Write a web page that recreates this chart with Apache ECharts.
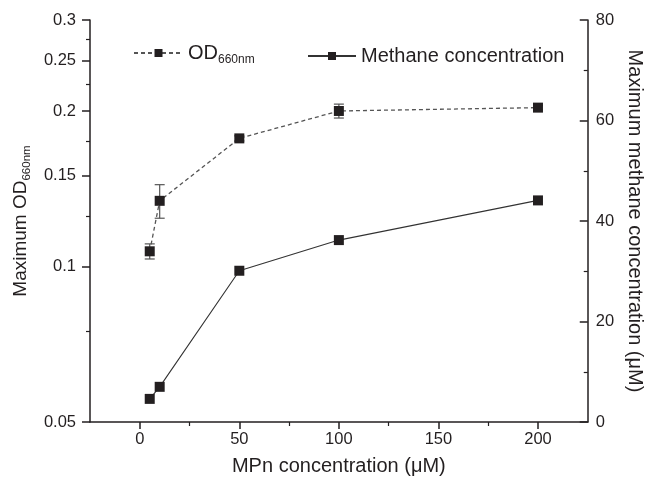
<!DOCTYPE html>
<html>
<head>
<meta charset="utf-8">
<script src="https://cdn.jsdelivr.net/npm/echarts@6/dist/echarts.min.js"></script>
<style>html,body{margin:0;padding:0;background:#fff}#c{width:653px;height:483px}</style>
</head>
<body>
<div id="c"></div>
<script>
// ---- data ----
const mpn = [5, 10, 50, 100, 200];
const od660 = [0.107, 0.134, 0.177, 0.200, 0.203];
const od660Err = [0.0036, 0.0100, 0.0020, 0.0062, 0.0020];
const methane = [4.6, 7.0, 30.1, 36.2, 44.1];
const xTicks = [0, 50, 100, 150, 200];
const xMinorTicks = [25, 75, 125, 175];
const odTicks = [0.05, 0.1, 0.15, 0.2, 0.25, 0.3];
const odMinorTicks = [0.075, 0.125, 0.175, 0.225, 0.275];
const methaneTicks = [0, 20, 40, 60, 80];

const FONT = '"Liberation Sans", Arial, sans-serif';
const TXT = '#231f20';
const AX = '#231f20';

const chart = echarts.init(document.getElementById('c'), null, {renderer: 'canvas'});

const odData = mpn.map((x, i) => [x, od660[i]]);
const odErrData = mpn.map((x, i) => [x, od660[i], od660Err[i]]);
const chData = mpn.map((x, i) => [x, methane[i]]);

const option = {
  backgroundColor: '#fff',
  animation: false,
  textStyle: {fontFamily: FONT, color: TXT},
  grid: {left: 90, right: 65, top: 20, bottom: 61, containLabel: false},
  legend: [
    {
      data: ['OD'],
      left: 128, top: 38,
      itemWidth: 49, itemHeight: 10, itemGap: 0,
      formatter: () => '{a|OD}{b|660nm}',
      textStyle: {fontFamily: FONT, color: TXT, rich: {
        a: {fontSize: 20, lineHeight: 26, fontFamily: FONT, color: TXT},
        b: {fontSize: 12, lineHeight: 12, verticalAlign: 'bottom', fontFamily: FONT, color: TXT}
      }}
    },
    {
      data: ['Methane concentration'],
      left: 302, top: 38,
      itemWidth: 48, itemHeight: 10,
      textStyle: {fontFamily: FONT, color: TXT, fontSize: 20, lineHeight: 26}
    }
  ],
  xAxis: [
    {
      type: 'value', min: -25, max: 225,
      name: 'MPn concentration (\u03bcM)', nameLocation: 'middle', nameGap: 34,
      nameTextStyle: {fontSize: 20, color: TXT, fontFamily: FONT},
      axisLine: {onZero: false, lineStyle: {color: AX, width: 1.5}},
      axisTick: {show: true, inside: false, length: 7, customValues: xTicks, lineStyle: {color: AX, width: 1.5}},
      axisLabel: {customValues: xTicks, margin: 9, fontSize: 16.5, color: TXT, fontFamily: FONT},
      splitLine: {show: false}
    },
    {
      type: 'value', min: -25, max: 225, position: 'bottom',
      axisLine: {show: false, onZero: false},
      axisTick: {show: true, length: 4, customValues: xMinorTicks, lineStyle: {color: AX, width: 1.2}},
      axisLabel: {show: false},
      splitLine: {show: false}
    }
  ],
  yAxis: [
    {
      type: 'log', logBase: 10, min: 0.05, max: 0.3, position: 'left',
      name: '{a|Maximum OD}{b|660nm}', nameLocation: 'middle', nameGap: 47, nameRotate: 90,
      nameTextStyle: {fontFamily: FONT, color: TXT, rich: {
        a: {fontSize: 19, lineHeight: 25, fontFamily: FONT, color: TXT},
        b: {fontSize: 11.5, lineHeight: 12, verticalAlign: 'bottom', fontFamily: FONT, color: TXT}
      }},
      axisLine: {show: true, onZero: false, lineStyle: {color: AX, width: 1.5}},
      axisTick: {show: true, length: 8, customValues: odTicks, lineStyle: {color: AX, width: 1.5}},
      axisLabel: {customValues: odTicks, margin: 14, fontSize: 16.5, color: TXT, fontFamily: FONT,
        formatter: v => String(Math.round(v * 100) / 100)},
      splitLine: {show: false}
    },
    {
      type: 'value', min: 0, max: 80, interval: 20, position: 'right',
      name: 'Maximum methane concentration (\u03bcM)', nameLocation: 'middle', nameGap: 33, nameRotate: -90,
      nameTextStyle: {fontSize: 20, color: TXT, fontFamily: FONT},
      axisLine: {show: true, onZero: false, lineStyle: {color: AX, width: 1.5}},
      axisTick: {show: true, inside: true, length: 8, lineStyle: {color: AX, width: 1.5}},
      minorTick: {show: true, splitNumber: 2, length: 4, lineStyle: {color: AX, width: 1.2}},
      axisLabel: {customValues: methaneTicks, margin: 8, fontSize: 16.5, color: TXT, fontFamily: FONT},
      splitLine: {show: false}
    },
    {
      type: 'log', logBase: 10, min: 0.05, max: 0.3, position: 'left',
      axisLine: {show: false, onZero: false},
      axisTick: {show: true, length: 4, customValues: odMinorTicks, lineStyle: {color: AX, width: 1.2}},
      axisLabel: {show: false},
      splitLine: {show: false}
    }
  ],
  series: [
    {
      name: 'OD', type: 'line', xAxisIndex: 0, yAxisIndex: 0, data: odData,
      symbol: 'rect', symbolSize: 10,
      itemStyle: {color: '#231f20'},
      lineStyle: {color: '#555', width: 1.3, type: [4, 3]},
      z: 3
    },
    {
      name: 'OD err', type: 'custom', xAxisIndex: 0, yAxisIndex: 0, data: odErrData,
      z: 2,
      renderItem: function (params, api) {
        const x = api.value(0), y = api.value(1), e = api.value(2);
        const top = api.coord([x, y + e]);
        const bot = api.coord([x, y - e]);
        const hw = 5;
        const st = {stroke: '#555', lineWidth: 1.2};
        return {type: 'group', children: [
          {type: 'line', shape: {x1: top[0], y1: top[1], x2: bot[0], y2: bot[1]}, style: st},
          {type: 'line', shape: {x1: top[0] - hw, y1: top[1], x2: top[0] + hw, y2: top[1]}, style: st},
          {type: 'line', shape: {x1: bot[0] - hw, y1: bot[1], x2: bot[0] + hw, y2: bot[1]}, style: st}
        ]};
      }
    },
    {
      name: 'Methane concentration', type: 'line', xAxisIndex: 0, yAxisIndex: 1, data: chData,
      symbol: 'rect', symbolSize: 10,
      itemStyle: {color: '#231f20'},
      lineStyle: {color: '#333', width: 1.1, type: 'solid'},
      z: 3
    }
  ]
};
chart.setOption(option);
</script>
</body>
</html>
